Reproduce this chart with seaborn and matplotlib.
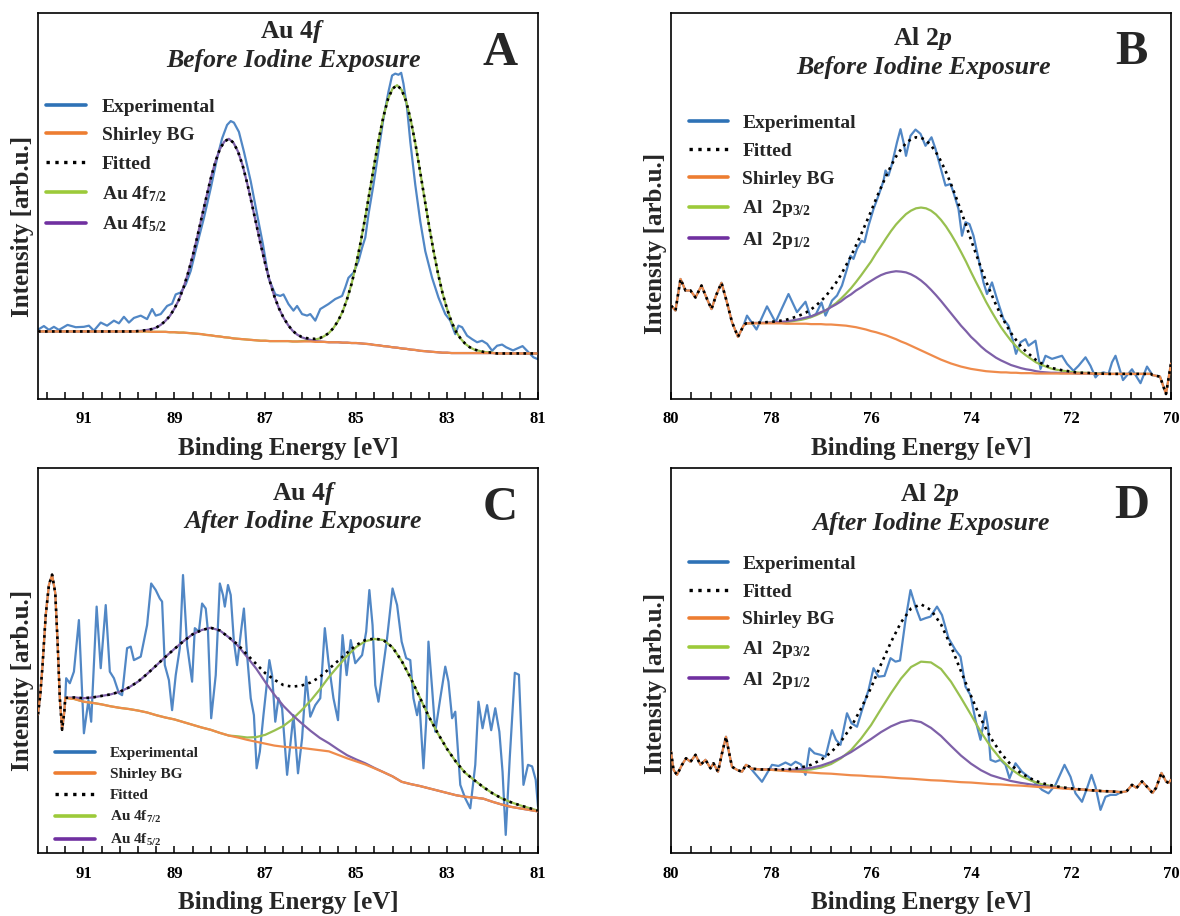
import numpy as np
import matplotlib
matplotlib.use("Agg")
import matplotlib.pyplot as plt
from matplotlib.lines import Line2D
from matplotlib.ticker import MultipleLocator
import seaborn as sns

# ------------------------------------------------------------------
# XPS spectra (binding energy in eV, intensity in arbitrary units)
# ------------------------------------------------------------------

# --- Au 4f, before iodine exposure ---
au_before_ev = [92.00, 91.98, 91.87, 91.76, 91.65, 91.54, 91.35, 91.17, 90.99, 90.88,
                90.77, 90.62, 90.48, 90.33, 90.22, 90.11, 90.00, 89.89, 89.74, 89.60,
                89.49, 89.41, 89.30, 89.16, 89.05, 88.97, 88.86, 88.75, 88.64, 88.50,
                88.35, 88.20, 88.06, 87.95, 87.84, 87.76, 87.69, 87.58, 87.47, 87.32,
                87.18, 87.05, 86.93, 86.78, 86.67, 86.60, 86.49, 86.38, 86.30, 86.19,
                86.08, 86.01, 85.90, 85.79, 85.61, 85.46, 85.31, 85.24, 85.17, 85.06,
                84.95, 84.87, 84.80, 84.73, 84.62, 84.51, 84.40, 84.29, 84.21, 84.14,
                84.07, 84.01, 83.96, 83.88, 83.81, 83.70, 83.59, 83.48, 83.33, 83.19,
                83.04, 82.93, 82.82, 82.75, 82.67, 82.56, 82.45, 82.34, 82.23, 82.12,
                82.01, 81.90, 81.79, 81.70, 81.55, 81.34, 81.20, 81.10, 81.00]
au_before_int = [17.8, 18.1, 18.9, 17.9, 18.7, 17.9, 19.2, 18.6, 18.7, 19.0,
                 17.7, 19.8, 19.0, 20.3, 19.6, 21.3, 19.8, 21.0, 21.6, 20.7,
                 23.3, 21.6, 22.0, 24.1, 24.7, 27.1, 27.6, 29.7, 33.2, 40.0,
                 46.9, 54.6, 62.4, 67.5, 71.0, 72.0, 71.6, 69.2, 64.1, 56.4,
                 47.8, 40.0, 31.4, 27.1, 26.7, 27.1, 24.6, 22.9, 24.1, 22.0,
                 21.6, 22.0, 20.3, 23.3, 24.6, 25.9, 26.7, 28.9, 31.4, 32.7,
                 35.7, 39.2, 41.8, 47.8, 55.5, 64.1, 72.7, 79.6, 83.8, 84.3,
                 84.0, 84.5, 81.7, 75.3, 66.7, 55.5, 46.0, 38.3, 31.4, 26.3,
                 22.0, 20.3, 16.8, 19.0, 18.6, 16.4, 15.5, 14.7, 15.1, 14.3,
                 12.5, 13.8, 14.1, 13.4, 12.6, 13.7, 12.0, 10.8, 10.3]
au_before_grid = np.round(np.arange(92.0, 80.95, -0.1), 1)
au_before_bg = [17.5, 17.5, 17.5, 17.5, 17.5, 17.5, 17.5, 17.5, 17.5, 17.5,
                17.5, 17.5, 17.5, 17.5, 17.5, 17.5, 17.5, 17.5, 17.5, 17.5,
                17.5, 17.5, 17.5, 17.5, 17.5,
                17.4, 17.4, 17.4, 17.4, 17.3, 17.3, 17.2, 17.2, 17.1, 17.0,
                16.9, 16.8, 16.6, 16.5, 16.3, 16.2, 16.0, 15.9, 15.7, 15.6,
                15.5, 15.4, 15.3, 15.2, 15.1, 15.1, 15.0, 15.0, 15.0, 15.0,
                15.0, 14.9, 14.9, 14.9, 14.9, 14.9, 14.8, 14.8, 14.8, 14.7,
                14.7, 14.7, 14.6, 14.6, 14.5, 14.5, 14.4, 14.3, 14.2, 14.0,
                13.9, 13.7, 13.6, 13.4, 13.3, 13.1, 13.0, 12.8, 12.7, 12.5,
                12.4, 12.3, 12.2, 12.1, 12.0, 12.0,
                11.9, 11.9, 11.9, 11.9, 11.9, 11.9, 11.9, 11.9, 11.9, 11.9,
                11.8, 11.8, 11.8, 11.8, 11.8, 11.8, 11.8, 11.8, 11.8, 11.8]
# fitted components above the background: (first energy, values on the grid)
au_before_4f72 = (86.2, [0.1, 0.2, 0.3, 0.6, 0.9, 1.5, 2.4, 3.7, 5.5, 8.0, 11.3,
                         15.4, 20.4, 26.3, 32.8, 39.8, 46.9, 53.6, 59.5, 64.1, 67.0,
                         68.0, 67.0, 64.1, 59.5, 53.6, 46.9, 39.8, 32.8, 26.3, 20.4,
                         15.4, 11.3, 8.0, 5.5, 3.7, 2.4, 1.5, 0.9, 0.6, 0.3, 0.2, 0.1])
au_before_4f52 = (89.8, [0.1, 0.2, 0.4, 0.7, 1.1, 1.8, 2.8, 4.2, 6.1, 8.5, 11.6,
                         15.5, 19.9, 24.9, 30.2, 35.5, 40.6, 45.1, 48.5, 50.7, 51.5,
                         50.7, 48.5, 45.1, 40.6, 35.5, 30.2, 24.9, 19.9, 15.5, 11.6,
                         8.5, 6.1, 4.2, 2.8, 1.8, 1.1, 0.7, 0.4, 0.2, 0.1])

# --- Al 2p, before iodine exposure ---
al_before_ev = [80.00, 79.91, 79.81, 79.71, 79.61, 79.51, 79.39, 79.28, 79.19, 79.10,
                78.99, 78.88, 78.78, 78.66, 78.55, 78.48, 78.29, 78.08, 77.91, 77.65,
                77.48, 77.31, 77.21, 77.10, 76.99, 76.91, 76.85, 76.78, 76.68, 76.58,
                76.48, 76.41, 76.35, 76.28, 76.19, 76.13, 76.05, 75.95, 75.85, 75.75,
                75.71, 75.65, 75.58, 75.48, 75.41, 75.35, 75.30, 75.21, 75.11, 75.01,
                74.91, 74.79, 74.71, 74.61, 74.51, 74.41, 74.35, 74.25, 74.18, 74.11,
                74.03, 73.95, 73.85, 73.75, 73.68, 73.58, 73.48, 73.35, 73.25, 73.17,
                73.10, 73.01, 72.91, 72.85, 72.71, 72.61, 72.51, 72.38, 72.18, 72.08,
                71.95, 71.85, 71.71, 71.61, 71.51, 71.45, 71.35, 71.25, 71.18, 71.11,
                70.96, 70.78, 70.61, 70.48, 70.37, 70.22, 70.10, 70.00]
al_before_int = [24.2, 22.9, 31.1, 28.1, 28.1, 26.3, 29.4, 25.9, 23.3, 26.8,
                 30.1, 25.0, 19.9, 16.1, 19.0, 21.6, 18.0, 24.0, 19.9, 27.2,
                 22.5, 25.2, 21.2, 22.0, 25.0, 21.6, 23.3, 25.5, 26.8, 29.4,
                 33.7, 37.1, 36.3, 38.9, 41.0, 40.6, 44.9, 49.2, 52.7, 56.5,
                 59.2, 57.9, 60.9, 66.5, 69.9, 66.5, 63.0, 68.2, 69.8, 68.7,
                 65.6, 67.8, 64.8, 60.0, 55.3, 55.7, 53.5, 49.2, 42.3, 45.8,
                 45.3, 42.3, 36.3, 30.2, 27.2, 30.2, 25.9, 20.7, 19.0, 15.5,
                 11.7, 14.7, 15.5, 13.8, 15.1, 7.8, 11.2, 10.4, 11.2, 9.1,
                 7.3, 8.6, 10.8, 8.6, 5.6, 6.5, 6.9, 6.5, 9.5, 11.2,
                 4.9, 7.7, 4.1, 8.4, 6.2, 5.8, 1.3, 9.2]
al_before_grid = np.round(np.arange(78.5, 70.35, -0.1), 1)
al_before_bg = [19.6, 19.6, 19.6, 19.6, 19.6, 19.6, 19.6, 19.6, 19.5, 19.5,
                19.5, 19.5, 19.5, 19.4, 19.4, 19.4, 19.3, 19.3, 19.2, 19.1,
                19.0, 18.8, 18.6, 18.3, 18.0, 17.6, 17.3, 16.9, 16.5, 16.0,
                15.5, 14.9, 14.4, 13.8, 13.2, 12.6, 12.0, 11.4, 10.8, 10.2,
                9.7, 9.2, 8.8, 8.4, 8.1, 7.8, 7.6, 7.4, 7.2, 7.1,
                7.0, 6.9, 6.9, 6.8, 6.8, 6.7, 6.7, 6.7, 6.6, 6.6,
                6.6, 6.6, 6.6, 6.6, 6.6, 6.6, 6.6, 6.6, 6.6, 6.6,
                6.5, 6.5, 6.5, 6.5, 6.5, 6.5, 6.5, 6.5, 6.5, 6.5, 6.5, 6.5]
al_before_2p32 = (78.5, [0.0, 0.0, 0.1, 0.1, 0.1, 0.2, 0.2, 0.3, 0.4, 0.6,
                         0.8, 1.0, 1.3, 1.8, 2.3, 2.9, 3.7, 4.6, 5.6, 6.9,
                         8.3, 9.9, 11.7, 13.7, 15.8, 18.0, 20.4, 22.7, 25.1, 27.5,
                         29.7, 31.7, 33.5, 35.0, 36.2, 37.0, 37.4,
                         37.4, 37.0, 36.2, 35.0, 33.5, 31.7, 29.7, 27.5, 25.1, 22.7,
                         20.4, 18.0, 15.8, 13.7, 11.7, 9.9, 8.3, 6.9, 5.6, 4.6,
                         3.7, 2.9, 2.3, 1.8, 1.3, 1.0, 0.8, 0.6, 0.4, 0.3,
                         0.2, 0.2, 0.1, 0.1, 0.1])
al_before_2p12 = (78.5, [0.0, 0.1, 0.1, 0.1, 0.2, 0.2, 0.3, 0.4, 0.6, 0.8,
                         1.0, 1.3, 1.6, 2.0, 2.5, 3.1, 3.7, 4.5, 5.3, 6.2,
                         7.3, 8.3, 9.5, 10.6, 11.8, 13.0, 14.1, 15.2, 16.1, 16.9,
                         17.6, 18.1, 18.4, 18.5,
                         18.4, 18.1, 17.6, 16.9, 16.1, 15.2, 14.1, 13.0, 11.8, 10.6,
                         9.5, 8.3, 7.3, 6.2, 5.3, 4.5, 3.7, 3.1, 2.5, 2.0,
                         1.6, 1.3, 1.0, 0.8, 0.6, 0.4, 0.3, 0.2, 0.2, 0.1, 0.1, 0.1])

# --- Au 4f, after iodine exposure ---
au_after_ev = [92.00, 91.95, 91.90, 91.83, 91.76, 91.69, 91.62, 91.57, 91.52, 91.47,
               91.42, 91.40, 91.38, 91.30, 91.21, 91.10, 90.99, 90.89, 90.83, 90.71,
               90.62, 90.51, 90.42, 90.33, 90.22, 90.15, 90.04, 89.96, 89.89, 89.74,
               89.60, 89.51, 89.41, 89.32, 89.27, 89.21, 89.12, 89.05, 88.97, 88.88,
               88.81, 88.72, 88.61, 88.55, 88.46, 88.39, 88.31, 88.26, 88.19, 88.09,
               88.00, 87.93, 87.89, 87.82, 87.76, 87.69, 87.62, 87.53, 87.47, 87.40,
               87.32, 87.25, 87.19, 87.12, 87.04, 86.97, 86.91, 86.85, 86.78, 86.71,
               86.63, 86.52, 86.45, 86.38, 86.28, 86.19, 86.10, 86.01, 85.90, 85.79,
               85.69, 85.61, 85.50, 85.40, 85.30, 85.21, 85.12, 85.02, 84.87, 84.78,
               84.71, 84.64, 84.58, 84.51, 84.43, 84.32, 84.20, 84.10, 84.00, 83.90,
               83.81, 83.74, 83.66, 83.61, 83.52, 83.46, 83.41, 83.33, 83.26, 83.15,
               83.04, 82.97, 82.89, 82.82, 82.71, 82.60, 82.49, 82.38, 82.31, 82.22,
               82.12, 82.03, 81.94, 81.85, 81.78, 81.71, 81.62, 81.51, 81.42, 81.32,
               81.22, 81.13, 81.05, 81.00]
au_after_int = [36.0, 41.0, 48.8, 61.8, 69.6, 72.3, 67.5, 55.0, 40.2, 32.0,
                36.8, 40.3, 45.4, 44.1, 47.1, 60.5, 31.1, 39.7, 34.1, 64.0,
                48.0, 64.4, 47.1, 45.4, 41.5, 41.0, 53.2, 53.6, 50.1, 51.0,
                59.2, 70.0, 68.3, 66.1, 65.3, 48.8, 44.9, 37.1, 46.2, 53.2,
                72.2, 54.0, 44.5, 58.4, 57.5, 64.8, 63.5, 57.5, 35.0, 46.2,
                70.0, 67.0, 64.0, 69.6, 67.0, 54.9, 48.8, 57.9, 63.5, 51.4,
                40.2, 35.8, 22.0, 26.3, 35.8, 43.6, 50.1, 46.2, 34.1, 40.2,
                37.6, 20.3, 28.1, 35.8, 20.7, 29.8, 45.8, 35.4, 38.4, 40.2,
                58.4, 49.7, 40.2, 34.5, 56.6, 46.2, 55.3, 49.3, 51.4, 57.5,
                68.3, 59.2, 43.6, 39.3, 46.2, 55.8, 68.7, 64.4, 54.9, 50.6,
                50.1, 40.2, 35.8, 39.3, 22.0, 34.1, 54.9, 42.8, 31.5, 40.2,
                48.4, 44.5, 35.0, 36.7, 17.7, 14.2, 11.6, 22.9, 39.3, 32.4,
                38.4, 31.9, 37.6, 31.5, 21.1, 4.7, 25.0, 46.8, 46.3, 17.7,
                22.9, 22.5, 19.0, 12.1]
au_after_grid = np.round(np.arange(91.4, 80.9, -0.2), 1)
au_after_bg = [40.3, 40.0, 39.3, 39.0, 38.6, 38.1, 37.7, 37.4, 37.0, 36.5,
               35.8, 35.2, 34.7, 34.0, 33.3, 32.6, 32.0, 31.2, 30.5, 30.0,
               29.4, 28.9, 28.4, 27.9, 27.6, 27.4, 27.3, 27.0, 26.7, 26.4,
               25.5, 24.6, 23.8, 23.0, 22.0, 21.0, 19.9, 18.5, 17.9, 17.4,
               16.8, 16.2, 15.6, 15.0, 14.6, 14.4, 14.1, 13.3, 12.6, 12.0,
               11.6, 11.2, 10.8]
au_after_4f72 = (87.6, [0.3, 0.6, 1.2, 2.3, 3.9, 5.4, 7.4, 9.8, 12.6, 15.8,
                        19.3, 23.0, 26.6, 29.7, 32.0, 33.6, 34.3, 33.5, 31.4, 27.5,
                        23.0, 18.6, 14.8, 11.4, 8.6, 6.2, 4.5, 3.0, 2.2, 1.6,
                        1.2, 0.8, 0.5, 0.2])
au_after_4f52 = (91.4, [0.0, 0.4, 0.9, 1.4, 2.2, 3.1, 4.2, 5.6, 7.5, 10.0,
                        12.9, 15.7, 18.3, 21.0, 23.5, 25.3, 26.5, 26.6, 25.5, 23.8,
                        21.5, 19.0, 16.0, 13.2, 10.6, 8.4, 6.4, 4.7, 3.2, 2.1,
                        1.4, 0.8, 0.5, 0.3, 0.1])

# --- Al 2p, after iodine exposure ---
al_after_ev = [80.00, 79.95, 79.88, 79.78, 79.70, 79.61, 79.51, 79.41, 79.31, 79.21,
               79.15, 79.06, 78.98, 78.90, 78.85, 78.78, 78.68, 78.58, 78.50, 78.43,
               78.35, 78.18, 77.98, 77.85, 77.71, 77.60, 77.51, 77.40, 77.31, 77.23,
               77.13, 77.01, 76.91, 76.78, 76.70, 76.61, 76.48, 76.39, 76.28, 76.18,
               76.05, 75.95, 75.85, 75.73, 75.61, 75.51, 75.42, 75.31, 75.21, 75.11,
               75.01, 74.91, 74.81, 74.68, 74.58, 74.45, 74.31, 74.21, 74.11, 74.01,
               73.91, 73.81, 73.71, 73.66, 73.61, 73.51, 73.41, 73.31, 73.23, 73.11,
               72.98, 72.85, 72.71, 72.58, 72.45, 72.31, 72.13, 72.01, 71.91, 71.78,
               71.68, 71.59, 71.51, 71.41, 71.31, 71.21, 71.10, 71.00, 70.89, 70.78,
               70.69, 70.58, 70.48, 70.37, 70.30, 70.19, 70.10, 70.05, 70.00]
al_after_int = [26.3, 21.6, 20.3, 22.9, 24.6, 23.7, 25.5, 22.9, 24.2, 22.0,
                23.3, 21.1, 25.9, 30.2, 26.8, 22.4, 21.6, 21.1, 22.9, 22.4,
                21.1, 18.5, 22.9, 22.6, 23.5, 22.8, 23.7, 23.0, 20.3, 27.2,
                25.9, 25.5, 25.0, 31.9, 29.4, 28.1, 36.3, 33.7, 32.8, 37.1,
                42.3, 48.0, 45.8, 46.0, 50.6, 49.7, 50.0, 60.5, 68.3, 64.0,
                60.5, 61.0, 61.4, 64.0, 61.8, 55.8, 52.7, 51.0, 43.2, 41.0,
                34.5, 29.4, 36.7, 32.8, 24.2, 23.7, 24.2, 22.9, 19.4, 23.3,
                21.1, 19.8, 18.1, 16.4, 15.5, 17.7, 22.9, 19.8, 15.5, 13.3,
                16.8, 20.3, 17.2, 11.2, 14.6, 15.1, 15.1, 15.8, 16.0, 17.7,
                16.9, 18.6, 17.2, 15.6, 16.9, 20.8, 18.6, 18.2, 19.0]
al_after_grid = np.round(np.arange(78.4, 70.9, -0.2), 1)
al_after_bg = [21.9, 21.7, 21.6, 21.4, 21.2, 21.1, 20.9, 20.7, 20.6, 20.4,
               20.2, 20.1, 19.9, 19.8, 19.6, 19.4, 19.3, 19.1, 18.9, 18.8,
               18.6, 18.4, 18.3, 18.1, 17.9, 17.8, 17.6, 17.5, 17.3, 17.1,
               17.0, 16.8, 16.6, 16.5, 16.3, 16.1, 16.0, 15.8]
al_after_2p32 = (78.4, [0.0, 0.0, 0.0, 0.1, 0.2, 0.4, 0.8, 1.5, 2.5, 4.2,
                        6.5, 9.6, 13.3, 17.6, 21.9, 25.9, 29.0, 30.6, 30.6, 29.0,
                        25.9, 21.9, 17.6, 13.3, 9.6, 6.5, 4.2, 2.5, 1.5, 0.8,
                        0.4, 0.2, 0.1])
al_after_2p12 = (78.4, [0.0, 0.0, 0.1, 0.2, 0.4, 0.7, 1.2, 2.0, 3.0, 4.4,
                        6.0, 7.8, 9.7, 11.6, 13.3, 14.6, 15.2, 14.9, 13.6, 11.6,
                        9.2, 6.9, 4.9, 3.4, 2.3, 1.6, 1.1, 0.7, 0.5, 0.3,
                        0.2, 0.1, 0.1])

# ------------------------------------------------------------------
# styling
# ------------------------------------------------------------------
sns.set_style("white")
plt.rcParams.update({
    "font.family": ["Liberation Serif", "DejaVu Serif"],
    "font.weight": "bold",
    "axes.labelweight": "bold",
    "mathtext.fontset": "custom",
    "mathtext.rm": "Liberation Serif:bold",
    "mathtext.it": "Liberation Serif:italic:bold",
    "mathtext.bf": "Liberation Serif:bold",
    "axes.edgecolor": "black",
    "axes.linewidth": 1.2,
    "xtick.color": "black",
})

EXP_C, BG_C, HI_C, LO_C = "#5187c5", "#ef8b4b", "#98c04f", "#7e60a8"
EXP_L, BG_L, HI_L, LO_L = "#2e72b6", "#ed7d31", "#9cca3a", "#7030a0"
LW = 1.6


def place(grid, start, values):
    out = np.zeros(len(grid))
    i = int(np.argmin(np.abs(grid - start)))
    out[i:i + len(values)] = values
    return out


def line(ax, x, y, color, z, ls="-", lw=LW):
    sns.lineplot(x=x, y=y, ax=ax, color=color, linewidth=lw, linestyle=ls,
                 sort=False, estimator=None, errorbar=None, zorder=z)


def draw_panel(ax, ev, inten, grid, bg, hi, lo, xlim, odd_ticks):
    ev = np.asarray(ev)
    inten = np.asarray(inten)
    bg = np.asarray(bg)
    hi_v = place(grid, *hi)
    lo_v = place(grid, *lo)
    left = ev > grid[0] + 1e-6
    right = ev < grid[-1] - 1e-6
    bx = np.concatenate([ev[left], grid, ev[right]])
    by = np.concatenate([inten[left], bg, inten[right]])
    fy = np.concatenate([inten[left], bg + hi_v + lo_v, inten[right]])

    # measured trace, the two doublet components, background, then the envelope
    line(ax, ev, inten, EXP_C, 2)
    line(ax, grid, bg + hi_v, HI_C, 3)
    line(ax, grid, bg + lo_v, LO_C, 4)
    line(ax, bx, by, BG_C, 5)
    line(ax, bx, fy, "black", 6, ls=":", lw=1.9)

    ax.set_xlim(*xlim)
    ax.set_ylim(0, 100)
    ax.set_yticks([])
    if odd_ticks:
        ax.xaxis.set_major_locator(MultipleLocator(2, offset=1))
        ax.xaxis.set_minor_locator(MultipleLocator(0.4, offset=0.2))
    else:
        ax.xaxis.set_major_locator(MultipleLocator(2))
        ax.xaxis.set_minor_locator(MultipleLocator(0.4))
    ax.tick_params(axis="x", which="both", direction="in", length=5, width=1.1,
                   bottom=True, top=False, labelsize=12, pad=9)
    for s in ax.spines.values():
        s.set_color("black")
        s.set_linewidth(1.2)
    ax.set_xlabel("Binding Energy [eV]", fontsize=18, fontweight="bold", labelpad=7)
    ax.set_ylabel("Intensity [arb.u.]", fontsize=18, fontweight="bold")


def add_legend(ax, labels, kinds, anchor, size, hlen, pad, spacing):
    style = {"exp": (EXP_L, "-"), "bg": (BG_L, "-"), "fit": ("black", ":"),
             "hi": (HI_L, "-"), "lo": (LO_L, "-")}
    handles = [Line2D([], [], color=style[k][0], linestyle=style[k][1],
                      linewidth=2.6 if k != "fit" else 2.4) for k in kinds]
    ax.legend(handles, labels, loc="upper left", bbox_to_anchor=anchor,
              frameon=False, prop={"size": size, "weight": "bold"},
              handlelength=hlen, handletextpad=pad, labelspacing=spacing,
              borderpad=0, borderaxespad=0)


def add_titles(ax, line1, line2, letter, p1, p2, pl):
    ax.text(*p1, line1, transform=ax.transAxes, ha="center", va="center",
            fontsize=18.5, fontweight="bold")
    ax.text(*p2, line2, transform=ax.transAxes, ha="center", va="center",
            fontsize=18.5, fontweight="bold", fontstyle="italic")
    ax.text(*pl, letter, transform=ax.transAxes, ha="center", va="center",
            fontsize=35, fontweight="bold")


fig = plt.figure(figsize=(11.8, 9.16), dpi=100)
W, H = 1180.0, 916.0
ax_a = fig.add_axes([38 / W, 1 - 399 / H, 500 / W, 386 / H])
ax_b = fig.add_axes([671 / W, 1 - 399 / H, 500 / W, 386 / H])
ax_c = fig.add_axes([38 / W, 1 - 853 / H, 500 / W, 385 / H])
ax_d = fig.add_axes([671 / W, 1 - 853 / H, 500 / W, 385 / H])

draw_panel(ax_a, au_before_ev, au_before_int, au_before_grid, au_before_bg,
           au_before_4f72, au_before_4f52, (92, 81), True)
draw_panel(ax_b, al_before_ev, al_before_int, al_before_grid, al_before_bg,
           al_before_2p32, al_before_2p12, (80, 70), False)
draw_panel(ax_c, au_after_ev, au_after_int, au_after_grid, au_after_bg,
           au_after_4f72, au_after_4f52, (92, 81), True)
draw_panel(ax_d, al_after_ev, al_after_int, al_after_grid, al_after_bg,
           al_after_2p32, al_after_2p12, (80, 70), False)

ax_a.yaxis.set_label_coords(-0.008, 0.448)
ax_b.yaxis.set_label_coords(-0.008, 0.404)
ax_c.yaxis.set_label_coords(-0.008, 0.449)
ax_d.yaxis.set_label_coords(-0.008, 0.44)

au_labels = ["Experimental", "Shirley BG", "Fitted", "Au 4f$_{7/2}$", "Au 4f$_{5/2}$"]
au_kinds = ["exp", "bg", "fit", "hi", "lo"]
al_labels = ["Experimental", "Fitted", "Shirley BG", "Al  2p$_{3/2}$", "Al  2p$_{1/2}$"]
al_kinds = ["exp", "fit", "bg", "hi", "lo"]

add_legend(ax_a, au_labels, au_kinds, (0.016, 0.780), 14, 2.06, 0.82, 0.57)
add_legend(ax_b, al_labels, al_kinds, (0.036, 0.738), 14, 2.0, 0.75, 0.54)
add_legend(ax_c, au_labels, au_kinds, (0.034, 0.276), 11, 2.6, 1.0, 0.46)
add_legend(ax_d, al_labels, al_kinds, (0.036, 0.774), 14, 2.0, 0.75, 0.53)

add_titles(ax_a, "Au $\\mathit{4f}$", "Before Iodine Exposure", "A",
           (0.508, 0.951), (0.51, 0.876), (0.924, 0.896))
add_titles(ax_b, "Al $\\mathit{2p}$", "Before Iodine Exposure", "B",
           (0.504, 0.935), (0.505, 0.86), (0.92, 0.90))
add_titles(ax_c, "Au $\\mathit{4f}$", "After Iodine Exposure", "C",
           (0.532, 0.935), (0.531, 0.86), (0.924, 0.896))
add_titles(ax_d, "Al $\\mathit{2p}$", "After Iodine Exposure", "D",
           (0.518, 0.93), (0.521, 0.857), (0.922, 0.90))

fig.savefig("out.png", dpi=100)
